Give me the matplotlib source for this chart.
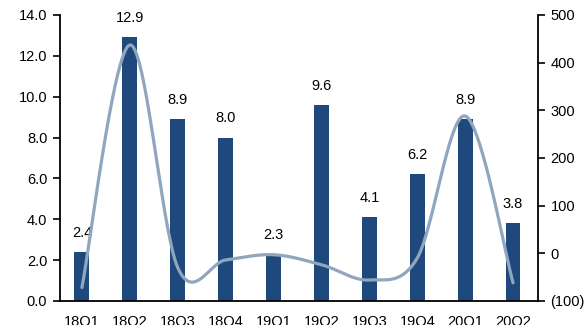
import numpy as np
import matplotlib.pyplot as plt
from matplotlib.ticker import FuncFormatter

plt.rcParams['font.family'] = ['Liberation Sans', 'DejaVu Sans']

quarters = ['18Q1', '18Q2', '18Q3', '18Q4', '19Q1', '19Q2', '19Q3', '19Q4', '20Q1', '20Q2']
bar_vals = [2.4, 12.9, 8.9, 8.0, 2.3, 9.6, 4.1, 6.2, 8.9, 3.8]
line_vals = [-72, 437, -30, -14, -3, -24, -56, -10, 288, -62]

bar_color = '#1F497D'
line_color = '#8FA6BE'


def excel_smooth(x, y, n=40):
    # bezier smoothing similar to the office "smoothed line" option
    x = np.asarray(x, float)
    y = np.asarray(y, float)
    xs, ys = [], []
    for i in range(len(x) - 1):
        p0 = np.array([x[max(i - 1, 0)], y[max(i - 1, 0)]])
        p1 = np.array([x[i], y[i]])
        p2 = np.array([x[i + 1], y[i + 1]])
        p3 = np.array([x[min(i + 2, len(x) - 1)], y[min(i + 2, len(x) - 1)]])
        c1 = p1 + (p2 - p0) / 6.0
        c2 = p2 - (p3 - p1) / 6.0
        t = np.linspace(0, 1, n)[:, None]
        pts = ((1 - t) ** 3) * p1 + 3 * ((1 - t) ** 2) * t * c1 + 3 * (1 - t) * t ** 2 * c2 + t ** 3 * p2
        xs.append(pts[:, 0])
        ys.append(pts[:, 1])
    return np.concatenate(xs), np.concatenate(ys)


fig = plt.figure(figsize=(5.87, 3.25), dpi=100)
ax = fig.add_axes([0.102, 0.074, 0.8145, 0.88])
ax2 = ax.twinx()

x = np.arange(len(quarters))
ax.bar(x, bar_vals, width=0.31, color=bar_color, zorder=2)
for xi, v in zip(x, bar_vals):
    ax.annotate('%.1f' % v, (xi, v), xytext=(0, 11), textcoords='offset points',
                ha='center', va='baseline', fontsize=10.5)

sx, sy = excel_smooth(x, line_vals)
ax2.plot(sx, sy, color=line_color, lw=2.3, solid_capstyle='round', zorder=3)
ax.set_zorder(ax2.get_zorder() - 1)
ax.patch.set_visible(False)
ax2.patch.set_visible(False)

ax.set_xlim(-0.46, 9.52)
ax.set_ylim(0, 14)
ax.set_yticks(np.arange(0, 14.1, 2))
ax.yaxis.set_major_formatter(FuncFormatter(lambda v, p: '%.1f' % v))
ax2.set_ylim(-100, 500)
ax2.set_yticks(np.arange(-100, 501, 100))
ax2.yaxis.set_major_formatter(FuncFormatter(lambda v, p: '(%d)' % -v if v < 0 else '%d' % v))

ax.set_xticks(x)
ax.set_xticklabels(quarters)

for a in (ax, ax2):
    a.spines['top'].set_visible(False)
    for s in ('left', 'right', 'bottom'):
        a.spines[s].set_linewidth(1.3)
    a.tick_params(labelsize=10.5, length=5, width=1.2, direction='out', pad=4)
ax.tick_params(axis='x', length=0, pad=10)
ax.spines['right'].set_visible(False)
ax2.spines['left'].set_visible(False)
ax2.spines['bottom'].set_visible(False)

fig.savefig('out.png', dpi=100)
